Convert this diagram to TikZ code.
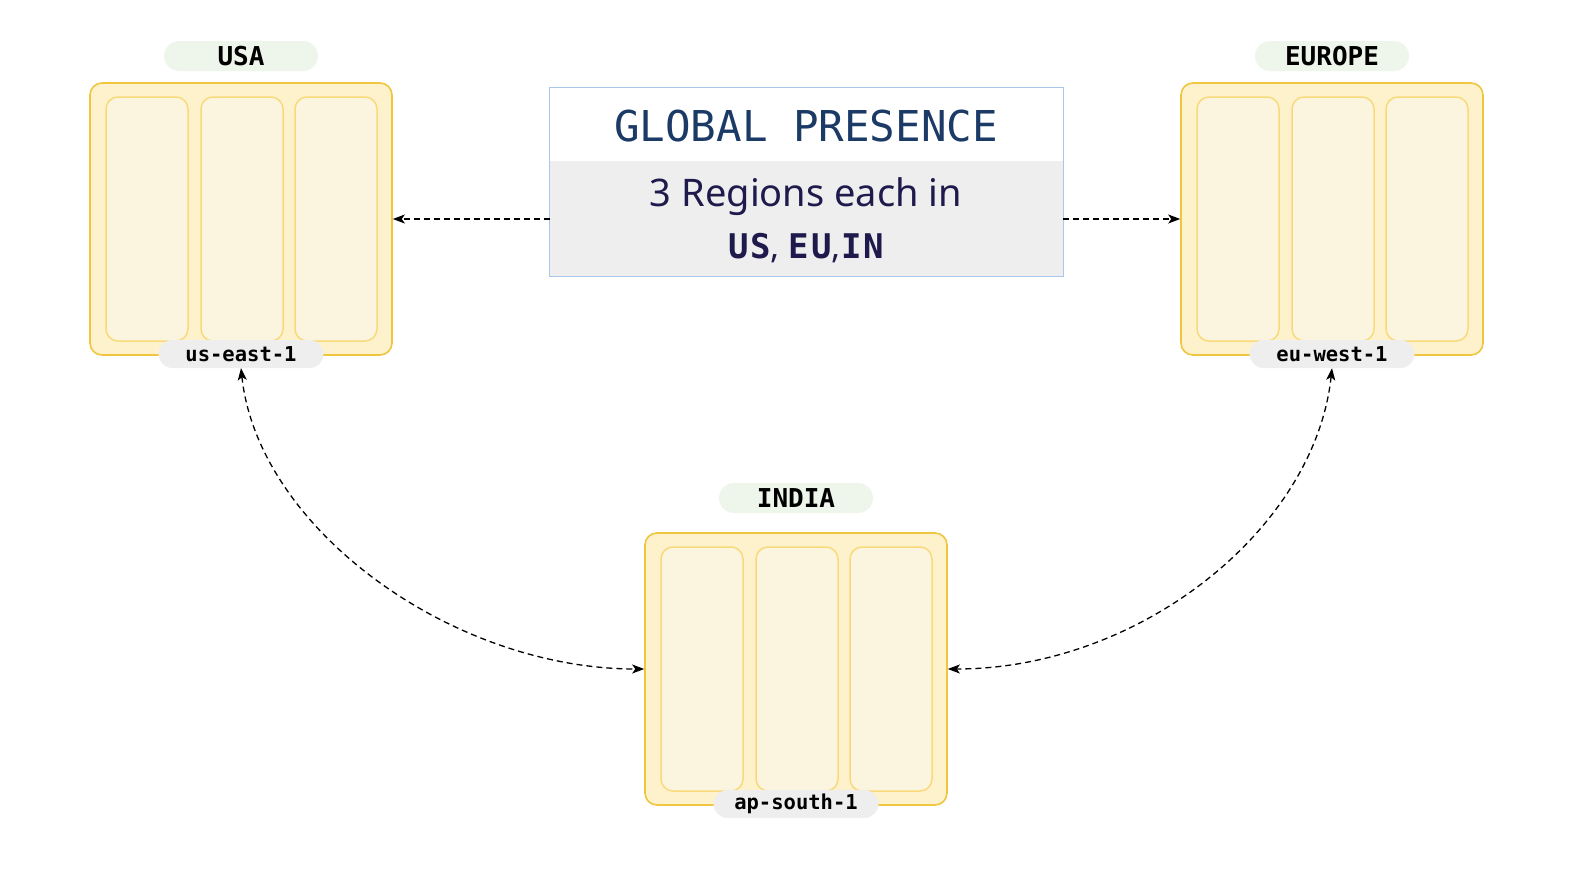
\documentclass[tikz,border=0pt]{standalone}
\usepackage{fontspec}
\setmainfont{Noto Sans}
\newfontfamily\monof{DejaVu Sans Mono}
\newfontfamily\monosp{DejaVu Sans Mono}[LetterSpace=6]
\usetikzlibrary{arrows.meta}
\definecolor{outerfill}{HTML}{FDF2CC}
\definecolor{outerdraw}{HTML}{EFC63E}
\definecolor{innerfill}{HTML}{FBF5E0}
\definecolor{innerdraw}{HTML}{F8DA7A}
\definecolor{greenpill}{HTML}{EEF6EB}
\definecolor{graypill}{HTML}{EEEEEE}
\definecolor{boxborder}{HTML}{A9C8EC}
\definecolor{titleblue}{HTML}{1B3A66}
\definecolor{textnavy}{HTML}{1E1A4C}
\tikzset{
  regionbox/.style={draw=outerdraw, fill=outerfill, line width=1.6pt, rounded corners=12pt, minimum width=302pt, minimum height=272pt, inner sep=0pt},
  zonebox/.style={draw=innerdraw, fill=innerfill, line width=1.5pt, rounded corners=12pt, minimum width=82pt, minimum height=244pt, inner sep=0pt},
  countrypill/.style={fill=greenpill, rounded corners=15pt, minimum width=154pt, minimum height=30pt, inner sep=0pt, font=\monof\bfseries\fontsize{26}{28}\selectfont, text=black},
  regionpill/.style={fill=graypill, rounded corners=14pt, minimum width=165pt, minimum height=28pt, inner sep=0pt, font=\monof\bfseries\fontsize{20.5}{22}\selectfont, text=black},
  link/.style={dashed, dash pattern=on 6pt off 4pt, line width=1.3pt, black},
  tip/.style={-{Stealth[length=12pt,width=9pt,inset=3pt]}},
  tips/.style={{Stealth[length=12pt,width=9pt,inset=3pt]}-{Stealth[length=12pt,width=9pt,inset=3pt]}}
}
\begin{document}
\begin{tikzpicture}[x=1pt,y=-1pt]
\useasboundingbox (0,0) rectangle (1584,881);
% USA
\node[regionbox] (usa) at (241,219) {};
\node[zonebox] (usa1) at (147,219) {};
\node[zonebox] (usa2) at (242,219) {};
\node[zonebox] (usa3) at (336,219) {};
\node[countrypill] (usalbl) at (241,56) {USA};
\node[regionpill] (usreg) at (241,354) {us-east-1};
% Europe
\node[regionbox] (eu) at (1332,219) {};
\node[zonebox] (eu1) at (1238,219) {};
\node[zonebox] (eu2) at (1333,219) {};
\node[zonebox] (eu3) at (1427,219) {};
\node[countrypill] (eulbl) at (1332,56) {EUROPE};
\node[regionpill] (eureg) at (1332,354) {eu-west-1};
% India
\node[regionbox] (in) at (796,669) {};
\node[zonebox] (in1) at (702,669) {};
\node[zonebox] (in2) at (797,669) {};
\node[zonebox] (in3) at (891,669) {};
\node[countrypill] (inlbl) at (796,498) {INDIA};
\node[regionpill] (inreg) at (796,804) {ap-south-1};
% Center box
\node[minimum width=513pt, minimum height=188pt, inner sep=0pt] (ctr) at (806.5,182) {};
\fill[graypill] (550,161) rectangle (1063,276);
\draw[boxborder, line width=1.3pt] (ctr.north west) rectangle (ctr.south east);
\node[font=\monof\fontsize{42.5}{44}\selectfont, text=titleblue] (title) at (806,126) {GLOBAL PRESENCE};
\node[font=\fontsize{38}{40}\selectfont, text=textnavy] (line1) at (806,197) {3 Regions each in};
\node[font=\fontsize{34}{36}\selectfont, text=textnavy] (line2) at (806,248) {{\monosp\bfseries US}, {\monosp\bfseries EU},{\monosp\bfseries IN}};
% Connectors
\draw[link, tip] (ctr.west |- usa.east) -- (usa.east);
\draw[link, tip] (ctr.east |- eu.west) -- (eu.west);
\draw[link, tips] (usreg.south) .. controls +(17,160) and +(-193,0) .. (in.west);
\draw[link, tips] (eureg.south) .. controls +(-17,160) and +(193,0) .. (in.east);
\end{tikzpicture}
\end{document}
